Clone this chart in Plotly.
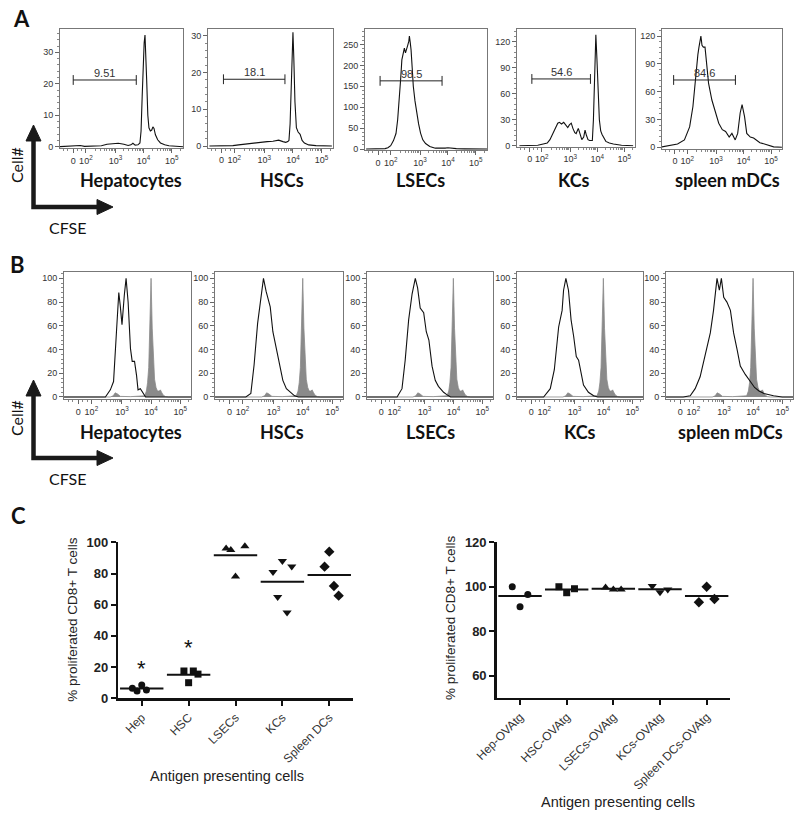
import numpy as np
import plotly.graph_objects as go

W, H = 800, 816

# ---------------- Panel A : CFSE histograms (x = log10 display position; "0" sits at 1.5) -------------
a_titles = ["Hepatocytes", "HSCs", "LSECs", "KCs", "spleen mDCs"]

a_hep_x = [1.0, 1.3, 1.6, 1.75, 1.9, 2.2, 2.5, 2.7, 2.9, 3.1, 3.3, 3.45, 3.55, 3.62, 3.7, 3.8, 3.87, 3.91, 3.95,
           3.99, 4.02, 4.05, 4.08, 4.11, 4.15, 4.19, 4.24, 4.29, 4.33, 4.37, 4.42, 4.5, 4.6, 4.75, 4.9, 5.1, 5.4]
a_hep_y = [0, 0.1, 0.2, 0.4, 0.1, 0.1, 0.3, 0.8, 1.0, 1.1, 0.8, 0.4, 0.6, 1.1, 0.5, 0.6, 1.2, 5, 16,
           27, 33, 35.5, 30, 21, 10, 6, 5, 5.3, 6.3, 5.8, 3.8, 2.2, 1.2, 0.6, 0.3, 0.1, 0]

a_hsc_x = [1.08, 1.5, 1.9, 2.1, 2.3, 2.5, 2.7, 2.9, 3.1, 3.3, 3.5, 3.65, 3.75, 3.82, 3.86, 3.9, 3.94, 3.98,
           4.0, 4.03, 4.07, 4.12, 4.18, 4.25, 4.32, 4.4, 4.55, 4.8, 5.1, 5.36]
a_hsc_y = [0, 0, 0.1, 0.3, 0.5, 0.6, 0.9, 1.0, 1.2, 1.3, 1.6, 1.2, 1.0, 1.2, 1.5, 6, 17, 28,
           31, 24, 12, 5, 3.8, 3.2, 1.5, 0.8, 0.3, 0.1, 0, 0]

a_lsec_x = [1.07, 1.5, 1.75, 1.85, 1.95, 2.05, 2.14, 2.2, 2.26, 2.31, 2.35, 2.4, 2.44, 2.48, 2.52, 2.56, 2.6,
            2.62, 2.65, 2.68, 2.72, 2.76, 2.82, 2.88, 2.95, 3.02, 3.1, 3.2, 3.35, 3.55, 3.75, 3.9, 4.0, 4.1,
            4.3, 4.6, 5.0, 5.43]
a_lsec_y = [0, 0, 1, 3, 8, 20, 37, 70, 117, 170, 213, 235, 241, 230, 237, 248, 258,
            270, 255, 237, 195, 150, 115, 88, 60, 38, 22, 13, 6, 2, 1, 2, 3, 2,
            0.8, 0.3, 0, 0]

a_kc_x = [1.12, 1.5, 1.8, 2.0, 2.15, 2.25, 2.36, 2.45, 2.54, 2.6, 2.68, 2.76, 2.84, 2.91, 2.97, 3.04, 3.1,
          3.17, 3.22, 3.3, 3.37, 3.43, 3.5, 3.55, 3.6, 3.66, 3.72, 3.79, 3.82, 3.86, 3.9, 3.95, 3.99, 4.03,
          4.08, 4.13, 4.18, 4.32, 4.45, 4.6, 4.9, 5.33]
a_kc_y = [0, 0, 0.5, 2, 3, 7, 14, 21, 26, 27, 25, 27, 24, 21, 24, 26, 20,
          15, 14, 20, 13, 7, 10, 18, 12, 7, 6, 6, 6, 30, 80, 128, 100, 60,
          30, 17, 13, 5, 3, 2, 0.5, 0]

a_dc_x = [0.95, 1.3, 1.6, 1.85, 2.04, 2.16, 2.23, 2.29, 2.34, 2.38, 2.42, 2.45, 2.49, 2.54, 2.6, 2.66, 2.73,
          2.85, 2.98, 3.1, 3.23, 3.35, 3.48, 3.58, 3.7, 3.79, 3.88, 3.95, 4.04, 4.12, 4.25, 4.37, 4.6, 4.85,
          5.1, 5.4]
a_dc_y = [0, 1.5, 3.6, 8, 22, 44, 69, 90, 100, 108, 115, 120, 110, 108, 108, 91, 69,
          51, 37, 26, 19, 17, 11, 15, 8, 15, 37, 46, 33, 15, 11, 10, 5, 2.5,
          0.5, 0]

# proliferation gates in panel A
a_gate_start = [1.5, 1.57, 1.57, 1.58, 1.45]
a_gate_end = [3.74, 3.72, 3.79, 3.75, 3.7]
a_gate_level = [21.2, 18.2, 163, 77, 72.6]
a_gate_pct = ["9.51", "18.1", "98.5", "54.6", "84.6"]

# ---------------- Panel B : normalised histograms, gray = undivided control --------------------------
b_titles = ["Hepatocytes", "HSCs", "LSECs", "KCs", "spleen mDCs"]

b_hep_x = [1.01, 2.0, 2.43, 2.6, 2.71, 2.81, 2.89, 2.94, 3.0, 3.08, 3.14, 3.21, 3.29, 3.35, 3.43, 3.5, 3.55,
           3.63, 3.73, 3.81, 4.5, 5.37]
b_hep_y = [0, 0, 0, 6, 13, 55, 88, 77, 61, 86, 100, 80, 41, 30, 30, 18, 6, 7, 3, 0, 0, 0]

b_hsc_x = [1.01, 2.0, 2.06, 2.23, 2.34, 2.46, 2.55, 2.66, 2.75, 2.83, 2.89, 2.98, 3.09, 3.21, 3.32, 3.44,
           3.61, 3.72, 3.85, 4.5, 5.37]
b_hsc_y = [0, 0, 0, 3, 27, 62, 80, 100, 89, 80, 76, 55, 41, 27, 14, 7, 3, 1, 0, 0, 0]

b_lsec_x = [1.01, 1.9, 2.05, 2.22, 2.33, 2.45, 2.57, 2.68, 2.76, 2.85, 2.97, 3.06, 3.15, 3.26, 3.37, 3.48,
            3.66, 3.77, 3.9, 4.5, 5.37]
b_lsec_y = [0, 0, 0, 7, 31, 65, 87, 100, 92, 75, 71, 55, 48, 26, 14, 9, 4, 2, 0, 0, 0]

b_kc_x = [1.01, 1.8, 1.93, 2.16, 2.3, 2.45, 2.57, 2.62, 2.7, 2.79, 2.88, 2.97, 3.06, 3.14, 3.22, 3.31, 3.48,
          3.66, 3.8, 4.5, 5.37]
b_kc_y = [0, 0, 0, 7, 23, 59, 73, 90, 100, 90, 65, 51, 34, 31, 20, 10, 4, 1, 0, 0, 0]

b_dc_x = [1.01, 1.6, 1.84, 2.01, 2.18, 2.36, 2.53, 2.64, 2.76, 2.84, 2.91, 2.99, 3.1, 3.22, 3.33, 3.45, 3.56,
          3.73, 3.85, 3.93, 4.05, 4.2, 4.37, 4.7, 5.0, 5.37]
b_dc_y = [0, 0, 1, 7, 17, 37, 54, 73, 100, 90, 100, 84, 80, 73, 54, 40, 26, 19, 15, 12, 8, 5, 3, 1, 0, 0]

b_ctrl_x = [1.01, 2.6, 2.7, 2.77, 2.85, 2.95, 3.3, 3.6, 3.78, 3.84, 3.88, 3.92, 3.96, 4.0, 4.04, 4.08, 4.12,
            4.17, 4.22, 4.28, 4.32, 4.36, 4.42, 4.5, 4.6, 5.37]
b_ctrl_y = [0, 0, 1, 3.5, 2.5, 0.5, 0.3, 0.5, 1, 5, 12, 25, 55, 100, 58, 30, 15, 8, 5, 5, 6, 4, 1.5, 0.3, 0, 0]

# ---------------- Panel C : % proliferated CD8+ T cells --------------------------------------------
c_left_cats = ["Hep", "HSC", "LSECs", "KCs", "Spleen DCs"]
c_left_rep1 = [6.4, None, 96, 81, None]
c_left_rep2 = [4.7, 17.5, 95, 65, 84.4]
c_left_rep3 = [8.5, 10, 78, 88, 94]
c_left_rep4 = [5.3, 17.5, None, 55, 72]
c_left_rep5 = [None, 15.5, 97.5, 84.5, 65.8]
c_left_star_y = [21.3, 34.2]          # asterisks above Hep and HSC

c_right_cats = ["Hep-OVAtg", "HSC-OVAtg", "LSECs-OVAtg", "KCs-OVAtg", "Spleen DCs-OVAtg"]
c_right_rep1 = [100, 100, 99.7, 100.3, 93]
c_right_rep2 = [91, 97.3, 98.8, 97.5, 100]
c_right_rep3 = [96.5, 99.1, 98.8, 98.7, 94.5]

c_symbols = ["circle", "square", "triangle-up", "triangle-down", "diamond"]
c_sizes = [7, 7, 8, 8, 8]

# ================================== figure ==========================================================
def xd(x0, x1):
    return [x0 / W, x1 / W]


def yd(top, bottom):
    return [1 - bottom / H, 1 - top / H]


def P(x, y):
    return f"{x / W:.5f},{1 - y / H:.5f}"


fig = go.Figure()
layout = {}

minor_x = [1.15, 1.3, 1.65, 1.8] + [float(np.log10(k * 10 ** n)) for n in (2, 3, 4) for k in range(2, 10)] + [5.3]
tick_font = dict(family="Arial, Liberation Sans", size=9, color="#333")


def fj_xaxis(dom, rng, anchor):
    return dict(domain=dom, range=rng, anchor=anchor, tickmode="array", automargin=False,
                tickvals=[1.5, 1.95, 3, 4, 5],
                ticktext=["0", "10<sup>2</sup>", "10<sup>3</sup>", "10<sup>4</sup>", "10<sup>5</sup>"],
                ticks="outside", ticklen=4, tickcolor="#666", showline=True, linecolor="#777", linewidth=1,
                mirror=True, showgrid=False, zeroline=False, tickfont=tick_font,
                minor=dict(tickmode="array", tickvals=minor_x, ticks="outside", ticklen=2, tickcolor="#888"))


def fj_yaxis(dom, rng, dt, anchor):
    return dict(domain=dom, range=rng, anchor=anchor, tick0=0, dtick=dt, ticks="outside", ticklen=4,
                automargin=False,
                tickcolor="#666", showline=True, linecolor="#777", linewidth=1, mirror=True, showgrid=False,
                zeroline=False, tickfont=tick_font,
                minor=dict(tick0=0, dtick=dt / 5, ticks="outside", ticklen=2, tickcolor="#888"))


# ---- Panel A axes & traces
a_xs = [a_hep_x, a_hsc_x, a_lsec_x, a_kc_x, a_dc_x]
a_ys = [a_hep_y, a_hsc_y, a_lsec_y, a_kc_y, a_dc_y]
a_box_x = [(60, 183), (208, 333), (365, 487), (517, 635), (662, 782)]
a_box_y = [(29, 148), (29, 147.5), (29, 150), (28.5, 146.5), (29, 148.5)]
a_yrng = [[-0.41, 37.4], [-0.41, 31.9], [-2.4, 287], [-0.92, 135.2], [-1.3, 127.6]]
a_dt = [10, 10, 50, 30, 30]
a_title_x = [131, 281.5, 420.5, 574, 727.5]

annotations = []
for i in range(5):
    k = i + 1
    xa, ya = f"x{k}", f"y{k}"
    layout[f"xaxis{k}"] = fj_xaxis(xd(*a_box_x[i]), [1.03, 5.4], ya)
    layout[f"yaxis{k}"] = fj_yaxis(yd(*a_box_y[i]), a_yrng[i], a_dt[i], xa)
    fig.add_trace(go.Scatter(x=a_xs[i], y=a_ys[i], mode="lines", line=dict(color="#111", width=1.1),
                             xaxis=xa, yaxis=ya, hoverinfo="skip", showlegend=False))
    fig.add_trace(go.Scatter(x=[a_gate_start[i], a_gate_end[i]], y=[a_gate_level[i]] * 2,
                             mode="lines+markers", line=dict(color="#222", width=1),
                             marker=dict(symbol="line-ns", size=7, line=dict(width=1, color="#222")),
                             xaxis=xa, yaxis=ya, hoverinfo="skip", showlegend=False))
    annotations.append(dict(x=(a_gate_start[i] + a_gate_end[i]) / 2, y=a_gate_level[i], xref=xa, yref=ya,
                            text=a_gate_pct[i], showarrow=False, yanchor="middle", yshift=7,
                            font=dict(family="Arial, Liberation Sans", size=11, color="#333")))
    annotations.append(dict(x=a_title_x[i] / W, y=1 - 180 / H, xref="paper", yref="paper", text=a_titles[i],
                            showarrow=False, xanchor="center", yanchor="middle",
                            font=dict(family="Lato", size=18, color="#111", weight="bold")))

# ---- Panel B axes & traces
b_xs = [b_hep_x, b_hsc_x, b_lsec_x, b_kc_x, b_dc_x]
b_ys = [b_hep_y, b_hsc_y, b_lsec_y, b_kc_y, b_dc_y]
b_box_x = [(64, 191), (215, 343), (367, 493), (517, 643), (666, 793)]
b_title_x = [131, 281.5, 430, 580, 730]
for i in range(5):
    k = i + 6
    xa, ya = f"x{k}", f"y{k}"
    layout[f"xaxis{k}"] = fj_xaxis(xd(*b_box_x[i]), [1.01, 5.37], ya)
    layout[f"yaxis{k}"] = fj_yaxis(yd(271.7, 399), [-1.7, 105.6], 20, xa)
    fig.add_trace(go.Scatter(x=b_ctrl_x, y=b_ctrl_y, mode="lines", fill="tozeroy", fillcolor="#8a8a8a",
                             line=dict(color="#8a8a8a", width=0.8), xaxis=xa, yaxis=ya,
                             hoverinfo="skip", showlegend=False))
    fig.add_trace(go.Scatter(x=b_xs[i], y=b_ys[i], mode="lines", line=dict(color="#111", width=1.1),
                             xaxis=xa, yaxis=ya, hoverinfo="skip", showlegend=False))
    annotations.append(dict(x=b_title_x[i] / W, y=1 - 432 / H, xref="paper", yref="paper", text=b_titles[i],
                            showarrow=False, xanchor="center", yanchor="middle",
                            font=dict(family="Lato", size=18, color="#111", weight="bold")))

# ---- Panel C axes
c_axis_common = dict(showline=True, linecolor="#111", linewidth=2.5, ticks="outside", ticklen=5, tickwidth=2,
                     tickcolor="#111", showgrid=False, zeroline=False, automargin=False)
layout["xaxis11"] = dict(domain=xd(118.3, 352.7), anchor="y11", type="category", categoryorder="array",
                         categoryarray=c_left_cats, range=[-0.5, 4.5], tickangle=-45,
                         tickfont=dict(family="Arial, Liberation Sans", size=12, color="#333"), **c_axis_common)
layout["yaxis11"] = dict(domain=yd(542.3, 698.3), anchor="x11", range=[0, 100], tickvals=[0, 20, 40, 60, 80, 100],
                         tickfont=dict(family="Arial, Liberation Sans", size=13, color="#222", weight="bold"),
                         **c_axis_common)
layout["xaxis13"] = dict(domain=xd(118.3, 352.7), anchor="y11", overlaying="x11", type="category",
                         categoryorder="array", categoryarray=c_left_cats, range=[-0.5, 4.5], visible=False,
                         automargin=False)
layout["xaxis12"] = dict(domain=xd(496.7, 730), anchor="y12", type="category", categoryorder="array",
                         categoryarray=c_right_cats, range=[-0.5, 4.5], tickangle=-45,
                         tickfont=dict(family="Arial, Liberation Sans", size=12, color="#333"), **c_axis_common)
layout["yaxis12"] = dict(domain=yd(542.3, 697.8), anchor="x12", range=[50, 120], tickvals=[60, 80, 100, 120],
                         tickfont=dict(family="Arial, Liberation Sans", size=13, color="#222", weight="bold"),
                         **c_axis_common)
layout["xaxis14"] = dict(domain=xd(496.7, 730), anchor="y12", overlaying="x12", type="category",
                         categoryorder="array", categoryarray=c_right_cats, range=[-0.5, 4.5], visible=False,
                         automargin=False)

left_reps = [c_left_rep1, c_left_rep2, c_left_rep3, c_left_rep4, c_left_rep5]
for r, vals in enumerate(left_reps):
    fig.add_trace(go.Scatter(x=c_left_cats, y=vals, mode="markers", xaxis="x11", yaxis="y11",
                             offsetgroup=f"L{r}", alignmentgroup="L",
                             marker=dict(symbol=c_symbols, size=c_sizes, color="#111", opacity=1,
                                         line=dict(width=0)), cliponaxis=False,
                             hoverinfo="skip", showlegend=False))
left_arr = np.array([[np.nan if v is None else v for v in rep] for rep in left_reps], dtype=float)
left_means = np.nanmean(left_arr, axis=0)
fig.add_trace(go.Scatter(x=c_left_cats, y=left_means, mode="markers", xaxis="x13", yaxis="y11",
                         marker=dict(symbol="line-ew", size=31, line=dict(width=2, color="#111")),
                         cliponaxis=False, hoverinfo="skip", showlegend=False))

right_reps = [c_right_rep1, c_right_rep2, c_right_rep3]
for r, vals in enumerate(right_reps):
    fig.add_trace(go.Scatter(x=c_right_cats, y=vals, mode="markers", xaxis="x12", yaxis="y12",
                             offsetgroup=f"R{r}", alignmentgroup="R",
                             marker=dict(symbol=c_symbols, size=c_sizes, color="#111", opacity=1,
                                         line=dict(width=0)), cliponaxis=False,
                             hoverinfo="skip", showlegend=False))
right_means = np.mean(np.array(right_reps, dtype=float), axis=0)
fig.add_trace(go.Scatter(x=c_right_cats, y=right_means, mode="markers", xaxis="x14", yaxis="y12",
                         marker=dict(symbol="line-ew", size=31, line=dict(width=2, color="#111")),
                         cliponaxis=False, hoverinfo="skip", showlegend=False))

for j, yv in enumerate(c_left_star_y):
    annotations.append(dict(x=j, y=yv, xref="x11", yref="y11", text="*", showarrow=False, yanchor="middle",
                            yshift=-3, font=dict(family="Arial, Liberation Sans", size=22, color="#111")))

# ---- text labels
def ptext(x, y, text, size, bold=False, angle=0, family="Lato", color="#111"):
    f = dict(family=family, size=size, color=color)
    if bold:
        f["weight"] = "bold"
    return dict(x=x / W, y=1 - y / H, xref="paper", yref="paper", text=text, showarrow=False,
                xanchor="center", yanchor="middle", textangle=angle, font=f)


annotations += [
    ptext(21, 18.5, "A", 22, bold=True),
    ptext(17, 264.5, "B", 22, bold=True),
    ptext(18.5, 515, "C", 22, bold=True),
    ptext(17, 165, "Cell#", 16, angle=-90),
    ptext(67, 227, "CFSE", 16),
    ptext(17, 418, "Cell#", 16, angle=-90),
    ptext(67, 478, "CFSE", 16),
    ptext(71.7, 620, "% proliferated CD8+ T cells", 13.5, angle=-90, family="Arial, Liberation Sans",
          color="#222"),
    ptext(450, 618, "% proliferated CD8+ T cells", 13.5, angle=-90, family="Arial, Liberation Sans",
          color="#222"),
    ptext(226.7, 776, "Antigen presenting cells", 14.5, family="Arial, Liberation Sans", color="#222"),
    ptext(618.3, 801.7, "Antigen presenting cells", 14.5, family="Arial, Liberation Sans", color="#222"),
]

# ---- CFSE / Cell# arrows
shapes = []
for tip_y, corner_y in [(125, 207), (380, 458)]:
    shapes.append(dict(type="path", xref="paper", yref="paper",
                       path=f"M{P(33.5, tip_y + 14)} L{P(33.5, corner_y)} L{P(100, corner_y)}",
                       line=dict(color="#1a1a1a", width=4.5)))
    shapes.append(dict(type="path", xref="paper", yref="paper",
                       path=f"M{P(33.5, tip_y)} L{P(26, tip_y + 16)} L{P(41, tip_y + 16)} Z",
                       fillcolor="#1a1a1a", line=dict(color="#1a1a1a", width=1)))
    shapes.append(dict(type="path", xref="paper", yref="paper",
                       path=f"M{P(113, corner_y)} L{P(97, corner_y - 7.5)} L{P(97, corner_y + 7.5)} Z",
                       fillcolor="#1a1a1a", line=dict(color="#1a1a1a", width=1)))

fig.update_layout(template="none", width=W, height=H, margin=dict(l=0, r=0, t=0, b=0, pad=0),
                  paper_bgcolor="white", plot_bgcolor="white", showlegend=False,
                  scattermode="group", scattergap=0.5, hovermode=False,
                  annotations=annotations, shapes=shapes, **layout)

fig.write_html("out.html", config={"displayModeBar": False, "staticPlot": True},
               post_script="document.body.style.margin='0';document.body.style.padding='0';"
                           "document.documentElement.style.overflow='hidden';")
